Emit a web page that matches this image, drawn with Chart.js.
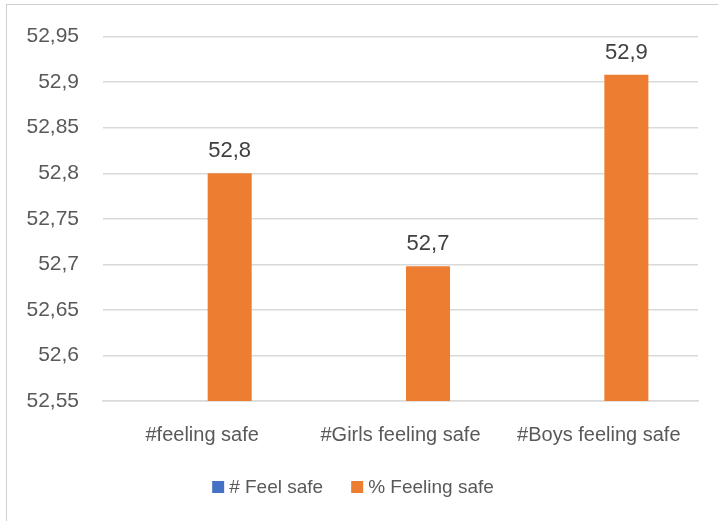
<!DOCTYPE html>
<html>
<head>
<meta charset="utf-8">
<script src="https://cdn.jsdelivr.net/npm/chart.js@4/dist/chart.umd.min.js"></script>
<style>
  html, body { margin: 0; padding: 0; background: #fff; overflow: hidden; }
  #wrap { position: relative; width: 718px; height: 521px; }
  #frame { position: absolute; left: 6px; top: 4px; width: 760px; height: 560px;
           border: 1.5px solid #cfcfcf; box-sizing: border-box; }
  canvas { position: absolute; left: 0; top: 0; }
</style>
</head>
<body>
<div id="wrap">
  <div id="frame"></div>
  <canvas id="c" width="718" height="521"></canvas>
</div>
<script>
const categories = ['#feeling safe', '#Girls feeling safe', '#Boys feeling safe'];
const feelSafeCount = [null, null, null];
const feelingSafePct = [52.8, 52.698, 52.908];
const seriesNames = ['# Feel safe', '% Feeling safe'];
const yMin = 52.55, yMax = 52.95, yStep = 0.05;

const FONT = '"Liberation Sans", Arial, sans-serif';
const fmt = v => String(Math.round(v * 100) / 100).replace('.', ',');

// value labels above the percentage bars, one decimal, comma separator
const valueLabels = {
  id: 'valueLabels',
  afterDatasetsDraw(chart) {
    const ctx = chart.ctx;
    const meta = chart.getDatasetMeta(1);
    ctx.save();
    ctx.font = '22px ' + FONT;
    ctx.fillStyle = '#404040';
    ctx.textAlign = 'center';
    ctx.textBaseline = 'alphabetic';
    meta.data.forEach((bar, i) => {
      const v = chart.data.datasets[1].data[i];
      if (v == null) return;
      ctx.fillText(v.toFixed(1).replace('.', ','), bar.x, bar.y - 16);
    });
    ctx.restore();
  }
};

// compact legend row under the axis: small square swatch, tight text gap
const seriesLegend = {
  id: 'seriesLegend',
  afterDraw(chart) {
    const ctx = chart.ctx;
    const box = 12, gap = 5, itemGap = 28, cy = 487;
    ctx.save();
    ctx.font = '19px ' + FONT;
    ctx.textBaseline = 'middle';
    ctx.textAlign = 'left';
    const items = chart.data.datasets.map(ds => ({
      text: ds.label, color: ds.backgroundColor, w: ctx.measureText(ds.label).width
    }));
    const total = items.reduce((s, it) => s + box + gap + it.w, 0) + itemGap * (items.length - 1);
    let x = 353 - total / 2;
    items.forEach(it => {
      ctx.fillStyle = it.color;
      ctx.fillRect(x, cy - box / 2, box, box);
      ctx.fillStyle = '#595959';
      ctx.fillText(it.text, x + box + gap, cy + 1);
      x += box + gap + it.w + itemGap;
    });
    ctx.restore();
  }
};

new Chart(document.getElementById('c'), {
  type: 'bar',
  data: {
    labels: categories,
    datasets: [
      { label: seriesNames[0], data: feelSafeCount, backgroundColor: '#4472C4' },
      { label: seriesNames[1], data: feelingSafePct, backgroundColor: '#ED7D31' }
    ]
  },
  options: {
    responsive: false,
    animation: false,
    devicePixelRatio: 1,
    categoryPercentage: 0.555,
    barPercentage: 0.8,
    layout: { padding: { left: 0, right: 20, top: 34, bottom: 52 } },
    plugins: {
      legend: { display: false },
      tooltip: { enabled: false }
    },
    scales: {
      x: {
        grid: { display: false, drawTicks: false },
        border: { display: true, color: '#d9d9d9', width: 1.5 },
        ticks: { font: { family: FONT, size: 20 }, color: '#595959', padding: 22 }
      },
      y: {
        min: yMin,
        max: yMax,
        afterFit(scale) { scale.width = 103; },
        afterBuildTicks(scale) {
          const t = [];
          for (let v = yMin; v <= yMax + 1e-9; v += yStep) t.push({ value: Math.round(v * 100) / 100 });
          scale.ticks = t;
        },
        grid: { color: '#d9d9d9', lineWidth: 1.5, drawTicks: false },
        border: { display: false },
        ticks: {
          font: { family: FONT, size: 21 },
          color: '#595959',
          padding: 24,
          callback: v => fmt(v)
        }
      }
    }
  },
  plugins: [valueLabels, seriesLegend]
});
</script>
</body>
</html>
